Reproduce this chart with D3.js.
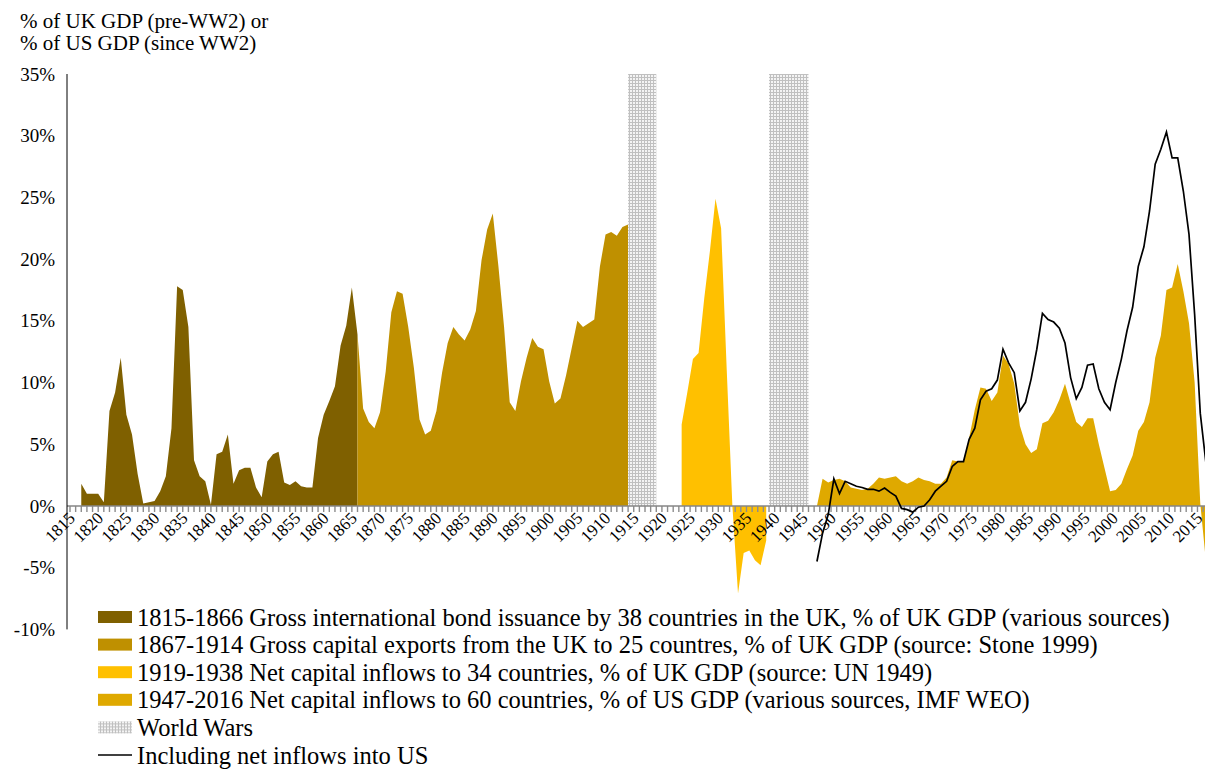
<!DOCTYPE html>
<html>
<head>
<meta charset="utf-8">
<script src="https://cdn.jsdelivr.net/npm/d3@7"></script>
<style>
  body { margin: 0; background: #fff; }
  svg { display: block; }
  text { font-family: "Liberation Serif", "Times New Roman", "DejaVu Serif", serif; fill: #000; }
</style>
</head>
<body>
<div id="chart"></div>
<script>
// 1815-1866 gross bond issuance (% of UK GDP), first value is 1817
const bondStart = 1817;
const bondValues = [1.8, 1.0, 1.0, 1.0, 0.3, 7.7, 9.2, 12.0, 7.4, 5.8,
  2.6, 0.2, 0.3, 0.4, 1.2, 2.4, 6.3, 17.8, 17.5, 14.5,
  3.7, 2.4, 2.0, 0.1, 4.2, 4.4, 5.8, 1.8, 2.9, 3.1,
  3.1, 1.5, 0.7, 3.6, 4.2, 4.4, 1.9, 1.7, 2.0, 1.6,
  1.5, 1.5, 5.5, 7.4, 8.5, 9.7, 13.0, 14.6, 17.7, 13.9];

// 1867-1914 gross capital exports (starts on the 1866 point so the fills touch)
const exportStart = 1866;
const exportValues = [13.9, 7.9, 6.8, 6.3, 7.6, 10.9, 15.7, 17.4, 17.2, 14.5,
  11.2, 7.0, 5.8, 6.1, 7.7, 10.8, 13.2, 14.5, 13.9, 13.4,
  14.3, 15.8, 19.9, 22.4, 23.7, 19.4, 14.5, 8.4, 7.7, 10.1,
  12.0, 13.6, 12.9, 12.7, 10.1, 8.3, 8.7, 10.6, 12.8, 15.0,
  14.5, 14.8, 15.1, 19.4, 22.0, 22.2, 21.9, 22.6, 22.8];

// 1919-1938 net capital inflows (data from 1923)
const interwarStart = 1923;
const interwarValues = [6.6, 9.2, 11.9, 12.4, 16.8, 20.6, 24.9, 22.5, 11.0, 0.0,
  -7.1, -3.8, -3.6, -4.4, -4.8, -2.8];

// 1947-2016 net capital inflows, % of US GDP
const postwarStart = 1947;
const postwarValues = [0.0, 2.2, 1.9, 2.1, 2.2, 2.0, 1.5, 1.4, 1.3, 1.4,
  1.8, 2.3, 2.2, 2.3, 2.4, 2.0, 1.8, 2.0, 2.3, 2.1,
  2.0, 1.8, 1.8, 2.3, 3.7, 3.6, 3.6, 5.5, 7.8, 9.6,
  9.5, 8.5, 9.2, 12.2, 11.5, 9.9, 6.5, 5.0, 4.3, 4.6,
  6.7, 6.9, 7.6, 8.6, 9.9, 8.3, 6.8, 6.4, 7.1, 7.1,
  5.0, 3.1, 1.2, 1.3, 1.8, 3.0, 4.1, 6.1, 6.8, 8.4,
  12.0, 13.8, 17.5, 17.7, 19.6, 17.4, 14.8, 10.0, 0.2, -4.5];

// including net inflows into US
const usStart = 1947;
const usValues = [-4.5, -2.2, -0.7, 2.2, 1.0, 2.0, 1.8, 1.6, 1.5, 1.35,
  1.35, 1.2, 1.45, 1.1, 0.8, -0.2, -0.3, -0.5, -0.1, 0.0,
  0.5, 1.2, 1.6, 2.0, 3.2, 3.6, 3.6, 5.4, 6.3, 8.6,
  9.3, 9.5, 10.2, 12.7, 11.6, 10.8, 7.7, 8.4, 10.3, 12.7,
  15.6, 15.1, 14.9, 14.4, 13.2, 10.4, 8.7, 9.6, 11.4, 11.5,
  9.5, 8.4, 7.8, 10.0, 11.9, 14.2, 16.1, 19.4, 21.0, 23.9,
  27.7, 28.9, 30.3, 28.2, 28.2, 25.5, 22.0, 15.5, 7.5, 3.5];

const warPeriods = [[1914, 1919], [1939, 1946]];
const yTicks = [35, 30, 25, 20, 15, 10, 5, 0, -5, -10];
const firstYear = 1815, lastYear = 2016;

const legendLabels = [
  "1815-1866 Gross international bond issuance by 38 countries in the UK, % of UK GDP (various sources)",
  "1867-1914 Gross capital exports from the UK to 25 countres, % of UK GDP (source: Stone 1999)",
  "1919-1938 Net capital inflows to 34 countries, % of UK GDP (source: UN 1949)",
  "1947-2016 Net capital inflows to 60 countries, % of US GDP (various sources, IMF WEO)",
  "World Wars",
  "Including net inflows into US"
];

const width = 1205, height = 770;
const svg = d3.select('#chart').append('svg')
  .attr('width', width)
  .attr('height', height)
  .attr('font-family', '"Liberation Serif", "Times New Roman", serif');

const x = d3.scaleLinear().domain([firstYear, lastYear]).range([70, 1203.1]);
const y = d3.scaleLinear().domain([-10, 35]).range([629.4, 74]);

// dotted fill used for the war years
const defs = svg.append('defs');
const pat = defs.append('pattern')
  .attr('id', 'wars')
  .attr('patternUnits', 'userSpaceOnUse')
  .attr('width', 3).attr('height', 3);
pat.append('rect').attr('width', 3).attr('height', 3).attr('fill', '#c0c0c0');
pat.append('rect').attr('width', 2).attr('height', 2).attr('fill', '#f4f4f4');

const toPoints = (start, values, shift) =>
  values.map((v, i) => ({ pos: start + i + shift, value: v }));

// later series sit half a year to the right in the original workbook
const areas = [
  { points: toPoints(bondStart, bondValues, 0), color: '#7f6000' },
  { points: toPoints(exportStart, exportValues, 0), color: '#bf9000' },
  { points: toPoints(interwarStart, interwarValues, 0.5), color: '#ffc000' },
  { points: toPoints(postwarStart, postwarValues, 0.5), color: '#dfa900' }
];

const area = d3.area()
  .x(d => x(d.pos))
  .y0(y(0))
  .y1(d => y(d.value));

svg.append('g').selectAll('path')
  .data(areas)
  .join('path')
  .attr('d', d => area(d.points))
  .attr('fill', d => d.color);

svg.append('g').selectAll('rect')
  .data(warPeriods)
  .join('rect')
  .attr('x', d => x(d[0]))
  .attr('width', d => x(d[1]) - x(d[0]))
  .attr('y', y(35))
  .attr('height', y(0) - y(35))
  .attr('fill', 'url(#wars)');

// x axis: a tick every year, a label every five
const xAxis = svg.append('g').attr('transform', `translate(0,${y(0)})`);
xAxis.selectAll('line.tick')
  .data(d3.range(firstYear, lastYear + 1))
  .join('line')
  .attr('class', 'tick')
  .attr('x1', d => x(d)).attr('x2', d => x(d))
  .attr('y1', 0).attr('y2', 6)
  .attr('stroke', '#8c8c8c').attr('stroke-width', 1.4);
xAxis.append('line')
  .attr('x1', 67).attr('x2', width)
  .attr('stroke', '#868686').attr('stroke-width', 1.6);
xAxis.selectAll('text')
  .data(d3.range(firstYear, lastYear, 5))
  .join('text')
  .attr('transform', d => `translate(${x(d + 0.5) - 1},9) rotate(-45)`)
  .attr('text-anchor', 'end')
  .attr('dy', '0.35em')
  .style('font-size', '17px')
  .text(d => d);

// y axis
svg.append('line')
  .attr('x1', 67).attr('x2', 67)
  .attr('y1', y(35)).attr('y2', y(-10))
  .attr('stroke', '#000').attr('stroke-width', 1);
svg.append('g').selectAll('text')
  .data(yTicks)
  .join('text')
  .attr('x', 55)
  .attr('y', d => y(d))
  .attr('dy', '0.35em')
  .attr('text-anchor', 'end')
  .style('font-size', '19px')
  .text(d => d + '%');

// US line
const line = d3.line()
  .x(d => x(d.pos))
  .y(d => y(d.value));
svg.append('path')
  .datum(toPoints(usStart, usValues, 0.5))
  .attr('d', line)
  .attr('fill', 'none')
  .attr('stroke', '#000')
  .attr('stroke-width', 1.7);

// axis title
svg.append('text')
  .attr('x', 20).attr('y', 28)
  .style('font-size', '21px')
  .text('% of UK GDP (pre-WW2) or');
svg.append('text')
  .attr('x', 20).attr('y', 50)
  .style('font-size', '21px')
  .text('% of US GDP (since WW2)');

// legend
const legendKeys = ['#7f6000', '#bf9000', '#ffc000', '#dfa900', 'url(#wars)', 'line'];
const legend = svg.append('g').attr('transform', 'translate(98,617)');
const rows = legend.selectAll('g')
  .data(legendLabels)
  .join('g')
  .attr('transform', (d, i) => `translate(0,${i * 27.6})`);
rows.each(function(d, i) {
  const g = d3.select(this);
  if (legendKeys[i] === 'line') {
    g.append('line').attr('x1', 0).attr('x2', 34).attr('stroke', '#000').attr('stroke-width', 1.7);
  } else {
    g.append('rect').attr('x', 0).attr('y', -6).attr('width', 34).attr('height', 12).attr('fill', legendKeys[i]);
  }
  g.append('text')
    .attr('x', 39)
    .attr('dy', '0.35em')
    .style('font-size', '24.5px')
    .text(d);
});
</script>
</body>
</html>
